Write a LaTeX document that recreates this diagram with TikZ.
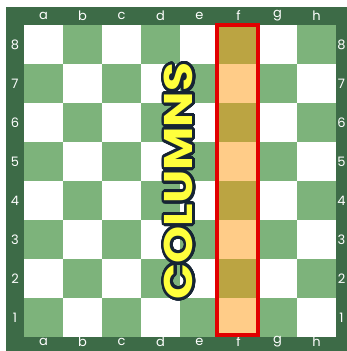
\documentclass[tikz,border=0pt]{standalone}
\usepackage{fontspec}
\setmainfont{Poppins}
\usepackage[copies]{contour}
\usetikzlibrary{positioning}
\definecolor{boardframe}{RGB}{61,107,71}
\definecolor{darksq}{RGB}{125,179,123}
\definecolor{hilite}{RGB}{255,204,136}
\definecolor{hilitedark}{RGB}{187,164,66}
\definecolor{markred}{RGB}{226,0,0}
\definecolor{wordfill}{RGB}{255,255,60}
\definecolor{wordline}{RGB}{22,36,52}
\contourlength{2.5pt}
\contournumber{40}

\begin{document}
\begin{tikzpicture}[x=1pt,y=-1pt,
  coordlabel/.style={text=white,font=\fontsize{13}{13}\selectfont,inner sep=0pt},
  colframe/.style={draw=markred,line width=4pt}]
\useasboundingbox (0,0) rectangle (347,351);
\fill[boardframe] (6,7) rectangle (347,351);
% squares, a8 in the top left
\foreach \c in {0,...,7}
  \foreach \r in {0,...,7}{
    \pgfmathtruncatemacro\parity{mod(\c+\r,2)}
    \ifnum\c=5
      \ifnum\parity=1 \def\sqcol{hilitedark}\else\def\sqcol{hilite}\fi
    \else
      \ifnum\parity=1 \def\sqcol{darksq}\else\def\sqcol{white}\fi
    \fi
    \fill[\sqcol] (24+39*\c,25+39*\r) rectangle ++(39,39);
  }
% file and rank labels
\foreach \l [count=\i from 0] in {a,b,c,d,e,f,g,h}{
  \node[coordlabel] (top-\l) at (43.5+39*\i,16) {\l};
  \node[coordlabel] (bot-\l) at (43.5+39*\i,342) {\l};
}
\foreach \n [count=\i from 0] in {8,...,1}{
  \node[coordlabel] (left-\n) at (15,44.5+39*\i) {\n};
  \node[coordlabel] (right-\n) at (341.5,44.5+39*\i) {\n};
}
\draw[colframe] (217,25) rectangle (258,335);
\node[rotate=90,inner sep=0pt,font=\fontsize{40}{40}\selectfont\bfseries] (word) at (180,181)
  {\scalebox{1.18}[1]{\contour{wordline}{\textcolor{wordfill}{COLUMNS}}}};
\end{tikzpicture}
\end{document}
